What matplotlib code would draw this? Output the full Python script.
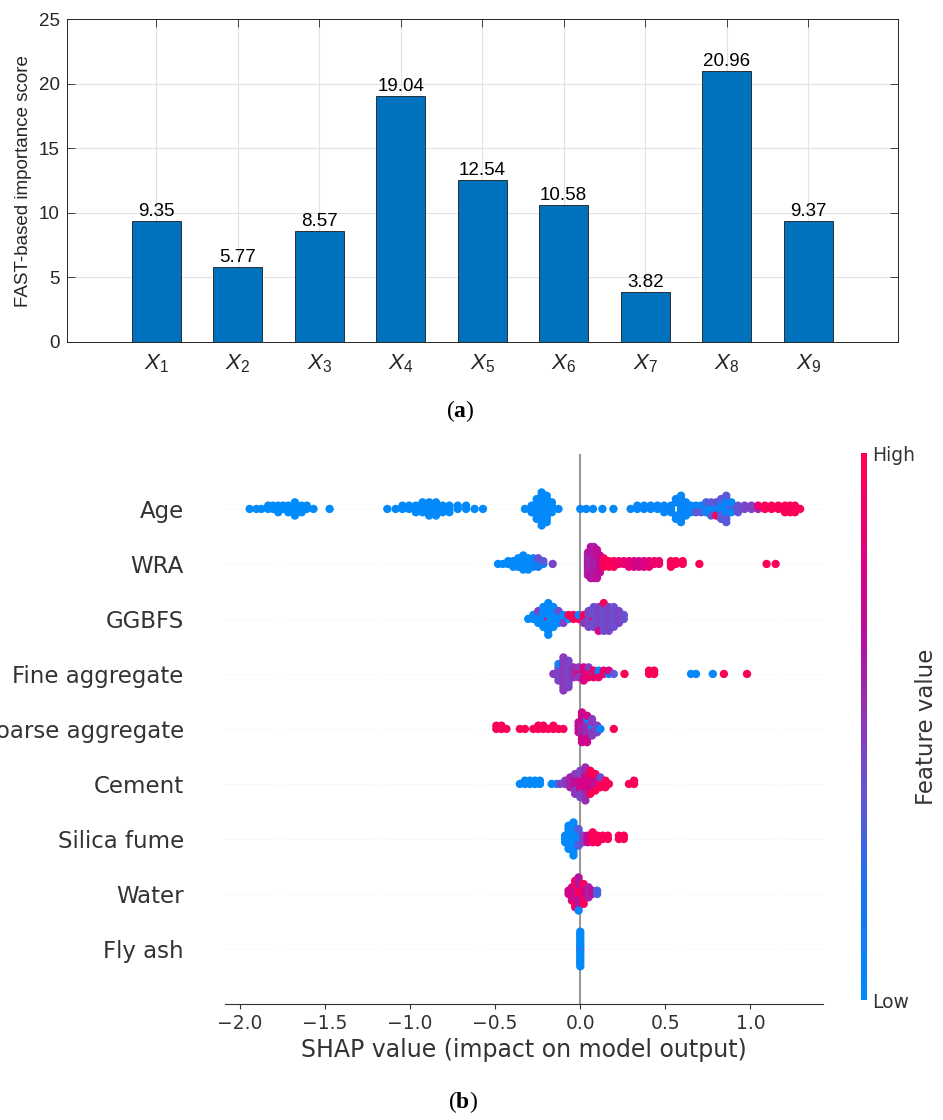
import numpy as np
import matplotlib
matplotlib.use('Agg')
from matplotlib import pyplot as plt
from matplotlib.colors import LinearSegmentedColormap, Normalize
from matplotlib.cm import ScalarMappable

# ---- panel (a): FAST importance ----
BAR_LABELS = ['1', '2', '3', '4', '5', '6', '7', '8', '9']
BAR_VALUES = [9.35, 5.77, 8.57, 19.04, 12.54, 10.58, 3.82, 20.96, 9.37]
Y_TICKS = [0, 5, 10, 15, 20, 25]

# ---- panel (b): SHAP beeswarm ----
# each entry: (shap value, feature value 0..1, number of samples at that spot)
FEATURES = ['Age', 'WRA', 'GGBFS', 'Fine aggregate', 'Coarse aggregate',
            'Cement', 'Silica fume', 'Water', 'Fly ash']

AGE = [
    (-1.943, 0.0, 1), (-1.903, 0.0, 1), (-1.874, 0.0, 1), (-1.834, 0.0, 2),
    (-1.805, 0.0, 2), (-1.775, 0.0, 3), (-1.746, 0.0, 2), (-1.716, 0.0, 3),
    (-1.677, 0.0, 5), (-1.637, 0.0, 3), (-1.607, 0.0, 2), (-1.568, 0.0, 1),
    (-1.473, 0.0, 1),
    (-1.134, 0.02, 1), (-1.085, 0.02, 1), (-1.045, 0.02, 2), (-1.006, 0.02, 2),
    (-0.966, 0.02, 3), (-0.927, 0.02, 4), (-0.888, 0.02, 5), (-0.848, 0.02, 5),
    (-0.809, 0.02, 3), (-0.769, 0.02, 3), (-0.720, 0.02, 2), (-0.671, 0.02, 2),
    (-0.621, 0.02, 1), (-0.572, 0.02, 1),
    (-0.325, 0.02, 1), (-0.286, 0.02, 3), (-0.256, 0.02, 7), (-0.227, 0.02, 11),
    (-0.197, 0.02, 9), (-0.167, 0.02, 4), (-0.128, 0.02, 1),
    (0.0, 0.03, 1), (0.035, 0.03, 1), (0.075, 0.03, 1), (0.13, 0.03, 1), (0.195, 0.03, 1),
    (0.296, 0.05, 1), (0.335, 0.05, 2), (0.375, 0.05, 2), (0.414, 0.05, 2),
    (0.454, 0.05, 2), (0.493, 0.05, 3), (0.533, 0.05, 3), (0.562, 0.05, 4),
    (0.592, 0.05, 9), (0.621, 0.05, 5), (0.651, 0.05, 3),
    (0.680, 0.05, 2), (0.680, 0.35, 1), (0.710, 0.05, 2), (0.710, 0.35, 1),
    (0.740, 0.05, 3), (0.740, 0.3, 1), (0.769, 0.05, 3), (0.769, 0.35, 2),
    (0.799, 0.05, 3), (0.799, 0.4, 1), (0.799, 1.0, 1),
    (0.828, 0.05, 4), (0.828, 0.35, 3), (0.858, 0.05, 6), (0.858, 0.35, 3),
    (0.888, 0.35, 2), (0.888, 0.05, 2), (0.927, 0.38, 3), (0.966, 0.45, 2),
    (1.006, 0.45, 2), (1.045, 0.6, 1), (1.045, 0.9, 1), (1.085, 0.97, 2),
    (1.124, 0.97, 2), (1.164, 0.97, 2), (1.203, 0.97, 3), (1.233, 0.97, 3),
    (1.262, 0.97, 3), (1.292, 0.97, 1),
]

WRA = [
    (-0.483, 0.02, 1), (-0.454, 0.02, 1), (-0.424, 0.02, 2), (-0.394, 0.02, 3),
    (-0.365, 0.02, 4), (-0.335, 0.02, 6), (-0.306, 0.02, 5), (-0.276, 0.05, 4),
    (-0.247, 0.1, 3), (-0.247, 0.4, 1), (-0.217, 0.05, 1), (-0.217, 0.35, 1),
    (-0.162, 0.45, 1),
    (0.045, 0.6, 9), (0.062, 0.55, 6), (0.062, 0.68, 6), (0.080, 0.62, 12),
    (0.098, 0.58, 5), (0.098, 0.7, 6), (0.115, 0.7, 7),
    (0.138, 0.97, 4), (0.168, 0.97, 3), (0.197, 0.95, 3), (0.227, 0.9, 2),
    (0.256, 0.9, 2), (0.286, 0.85, 3), (0.316, 0.8, 3), (0.345, 0.75, 3),
    (0.375, 0.8, 3), (0.404, 0.85, 3), (0.434, 0.9, 2), (0.463, 0.9, 2),
    (0.533, 0.97, 3), (0.562, 0.97, 2), (0.602, 0.97, 2), (0.700, 0.97, 1),
    (1.095, 0.97, 1), (1.148, 0.97, 1),
]

GGBFS = [
    (-0.306, 0.02, 1), (-0.276, 0.02, 2), (-0.247, 0.02, 3), (-0.247, 0.45, 1),
    (-0.217, 0.02, 6), (-0.188, 0.97, 1), (-0.188, 0.02, 8), (-0.158, 0.02, 6),
    (-0.128, 0.02, 3), (-0.128, 0.4, 1), (-0.099, 0.02, 2), (-0.099, 0.45, 1),
    (-0.069, 0.02, 1), (-0.069, 0.97, 1), (-0.040, 0.97, 2), (-0.010, 0.97, 1),
    (-0.010, 0.05, 1), (0.020, 0.97, 2), (0.020, 0.5, 1),
    (0.049, 0.45, 5), (0.079, 0.97, 1), (0.079, 0.4, 5), (0.108, 0.45, 6),
    (0.108, 0.8, 1), (0.138, 0.4, 7), (0.138, 0.97, 1), (0.168, 0.45, 7),
    (0.197, 0.4, 6), (0.227, 0.45, 4), (0.256, 0.4, 2),
]

FINE_AGG = [
    (-0.158, 0.5, 1), (-0.128, 0.45, 5), (-0.128, 0.05, 1), (-0.099, 0.5, 11),
    (-0.069, 0.45, 9), (-0.040, 0.55, 4), (-0.010, 0.9, 2), (-0.010, 0.5, 2),
    (0.020, 0.05, 1), (0.020, 0.8, 4), (0.049, 0.9, 3), (0.049, 0.5, 1),
    (0.079, 0.05, 1), (0.079, 0.9, 2), (0.108, 0.05, 2), (0.108, 0.9, 1),
    (0.138, 0.9, 2), (0.168, 0.05, 1), (0.168, 0.8, 1), (0.197, 0.35, 1),
    (0.260, 0.97, 1), (0.404, 0.97, 2), (0.434, 0.97, 2), (0.651, 0.05, 1),
    (0.680, 0.05, 1), (0.779, 0.05, 1), (0.844, 0.97, 1), (0.980, 0.97, 1),
]

COARSE_AGG = [
    (-0.493, 0.97, 2), (-0.463, 0.97, 2), (-0.434, 0.97, 1), (-0.355, 0.97, 1),
    (-0.325, 0.97, 1), (-0.276, 0.97, 1), (-0.247, 0.97, 2), (-0.217, 0.97, 2),
    (-0.188, 0.97, 1), (-0.158, 0.97, 2), (-0.128, 0.97, 1), (-0.099, 0.97, 1),
    (-0.010, 0.7, 4), (0.010, 0.6, 5), (0.010, 0.75, 5), (0.040, 0.55, 5),
    (0.040, 0.05, 1), (0.040, 0.75, 3), (0.069, 0.05, 2), (0.069, 0.5, 4),
    (0.099, 0.45, 3), (0.118, 0.05, 1), (0.197, 0.97, 1),
]

CEMENT = [
    (-0.355, 0.02, 1), (-0.325, 0.02, 2), (-0.296, 0.02, 2), (-0.266, 0.02, 2),
    (-0.237, 0.02, 2), (-0.168, 0.05, 1), (-0.138, 0.05, 1), (-0.118, 0.45, 1),
    (-0.089, 0.5, 2),
    (-0.059, 0.6, 4), (-0.030, 0.7, 4), (-0.030, 0.5, 3), (0.0, 0.75, 5),
    (0.0, 0.45, 4), (0.030, 0.8, 6), (0.030, 0.55, 5), (0.059, 0.75, 5),
    (0.059, 0.97, 3), (0.089, 0.7, 4), (0.089, 0.97, 2), (0.118, 0.97, 3),
    (0.118, 0.4, 1), (0.148, 0.97, 3), (0.168, 0.97, 1), (0.286, 0.97, 1),
    (0.316, 0.97, 2),
]

SILICA_FUME = [
    (-0.089, 0.02, 3), (-0.069, 0.02, 8), (-0.040, 0.02, 11), (-0.010, 0.05, 4),
    (-0.010, 0.35, 2), (0.016, 0.45, 3), (0.043, 0.75, 3), (0.073, 0.97, 4),
    (0.102, 0.97, 3), (0.132, 0.97, 2), (0.162, 0.97, 2), (0.227, 0.97, 2),
    (0.256, 0.97, 2),
]

WATER = [
    (-0.069, 0.75, 2), (-0.049, 0.8, 5), (-0.030, 0.7, 5), (-0.030, 0.97, 4),
    (-0.010, 0.97, 4), (-0.010, 0.65, 6), (-0.010, 0.05, 1), (0.020, 0.8, 4),
    (0.020, 0.97, 3), (0.049, 0.6, 4), (0.069, 0.7, 2), (0.099, 0.3, 2),
]

FLY_ASH = [(0.0, 0.97, 1), (0.0, 0.02, 14)]

SWARMS = [AGE, WRA, GGBFS, FINE_AGG, COARSE_AGG, CEMENT, SILICA_FUME, WATER, FLY_ASH]

RED_BLUE = LinearSegmentedColormap.from_list('shap_red_blue', [
    (0.0, '#008bfb'), (0.2, '#1a74ee'), (0.35, '#5a5ada'), (0.5, '#8b3abd'),
    (0.65, '#b3139f'), (0.8, '#dc0083'), (1.0, '#ff0052')])


def expand(groups):
    shaps, fvals = [], []
    for s, f, n in groups:
        shaps += [s] * n
        fvals += [f] * n
    return np.array(shaps), np.array(fvals)


def swarm_offsets(shaps, row_height=0.4, nbins=100):
    # same layering as shap's summary_plot beeswarm
    quant = np.round(nbins * (shaps - shaps.min()) / (shaps.max() - shaps.min() + 1e-8))
    inds = np.argsort(quant, kind='stable')
    ys = np.zeros(len(shaps))
    layer, last_bin = 0, -1
    for ind in inds:
        if quant[ind] != last_bin:
            layer = 0
        ys[ind] = np.ceil(layer / 2) * ((layer % 2) * 2 - 1)
        layer += 1
        last_bin = quant[ind]
    ys *= 0.9 * (row_height / np.max(ys + 1))
    return ys


plt.rcParams['mathtext.fontset'] = 'custom'
plt.rcParams['mathtext.it'] = 'Liberation Sans:italic'
plt.rcParams['mathtext.rm'] = 'Liberation Sans'
plt.rcParams['mathtext.bf'] = 'Liberation Serif:bold'

fig = plt.figure(figsize=(9.43, 11.2), dpi=100)

# (a) bar chart, MATLAB look
ax1 = fig.add_axes([0.0707, 0.6949, 0.8813, 0.2881])
xpos = np.arange(1, len(BAR_VALUES) + 1)
ax1.bar(xpos, BAR_VALUES, width=0.6, color='#0072BD', edgecolor='#1a1a1a',
        linewidth=0.6, zorder=3)
for xi, v in zip(xpos, BAR_VALUES):
    ax1.text(xi, v + 0.4, '%.2f' % v, ha='center', va='baseline',
             fontsize=13.5, family='Liberation Sans', color='#000000')
ax1.set_xlim(-0.1, 10.1)
ax1.set_ylim(0, 25)
ax1.set_yticks(Y_TICKS, labels=[str(t) for t in Y_TICKS], fontsize=13.5,
               fontfamily='Liberation Sans')
ax1.set_xticks(xpos, labels=[r'$\mathit{X}_{\mathit{%s}}$' % s for s in BAR_LABELS],
               fontsize=16)
ax1.grid(True, color='#e2e2e2', linewidth=0.8)
ax1.set_axisbelow(True)
ax1.tick_params(direction='in', length=5.5, width=0.6, top=True, right=True,
                colors='#262626')
ax1.tick_params(axis='x', pad=8)
ax1.tick_params(axis='y', pad=5)
for sp in ax1.spines.values():
    sp.set_color('#262626')
    sp.set_linewidth(0.7)
ax1.set_ylabel('FAST-based importance score', fontsize=13.5,
               family='Liberation Sans', color='#262626')
ax1.yaxis.set_label_coords(-0.042, 0.498)

# (b) SHAP summary beeswarm
ax2 = fig.add_axes([0.2391, 0.1036, 0.6332, 0.4911])
n_feat = len(FEATURES)
for i, groups in enumerate(SWARMS):
    pos = n_feat - 1 - i
    shaps, fvals = expand(groups)
    ax2.axhline(pos, color='#cccccc', lw=0.5, dashes=(1, 5), zorder=-1)
    ax2.scatter(shaps, pos + swarm_offsets(shaps), c=fvals, cmap=RED_BLUE,
                vmin=0, vmax=1, s=36, linewidths=0, zorder=3)
ax2.axvline(0, color='#999999', lw=1.5, zorder=-1)
ax2.set_ylim(-1, n_feat)
ax2.set_xlim(-2.085, 1.424)
ax2.set_yticks(range(n_feat), labels=FEATURES[::-1], fontsize=16.5, color='#333333')
ax2.set_xticks([-2.0, -1.5, -1.0, -0.5, 0.0, 0.5, 1.0])
ax2.tick_params(axis='y', length=0, pad=30)
ax2.tick_params(axis='x', labelsize=13.5, colors='#333333')
for side in ('top', 'right', 'left'):
    ax2.spines[side].set_visible(False)
ax2.spines['bottom'].set_color('#333333')
ax2.set_xlabel('SHAP value (impact on model output)', fontsize=17, color='#333333')

cax = fig.add_axes([0.913, 0.1071, 0.0064, 0.4884])
cb = fig.colorbar(ScalarMappable(norm=Normalize(0, 1), cmap=RED_BLUE), cax=cax, ticks=[0, 1])
cb.set_ticklabels(['Low', 'High'])
cb.ax.tick_params(labelsize=13.5, length=0, labelcolor='#333333')
cb.outline.set_visible(False)
cb.set_label('Feature value', size=16.5, labelpad=0, color='#333333')

# captions
fig.text(0.488, 1 - 411 / 1120, r'($\mathbf{a}$)', ha='center', va='center',
         fontsize=17, family='Liberation Serif')
fig.text(0.491, 1 - 1102 / 1120, r'($\mathbf{b}$)', ha='center', va='center',
         fontsize=17, family='Liberation Serif')

fig.savefig('out.png', dpi=100)
